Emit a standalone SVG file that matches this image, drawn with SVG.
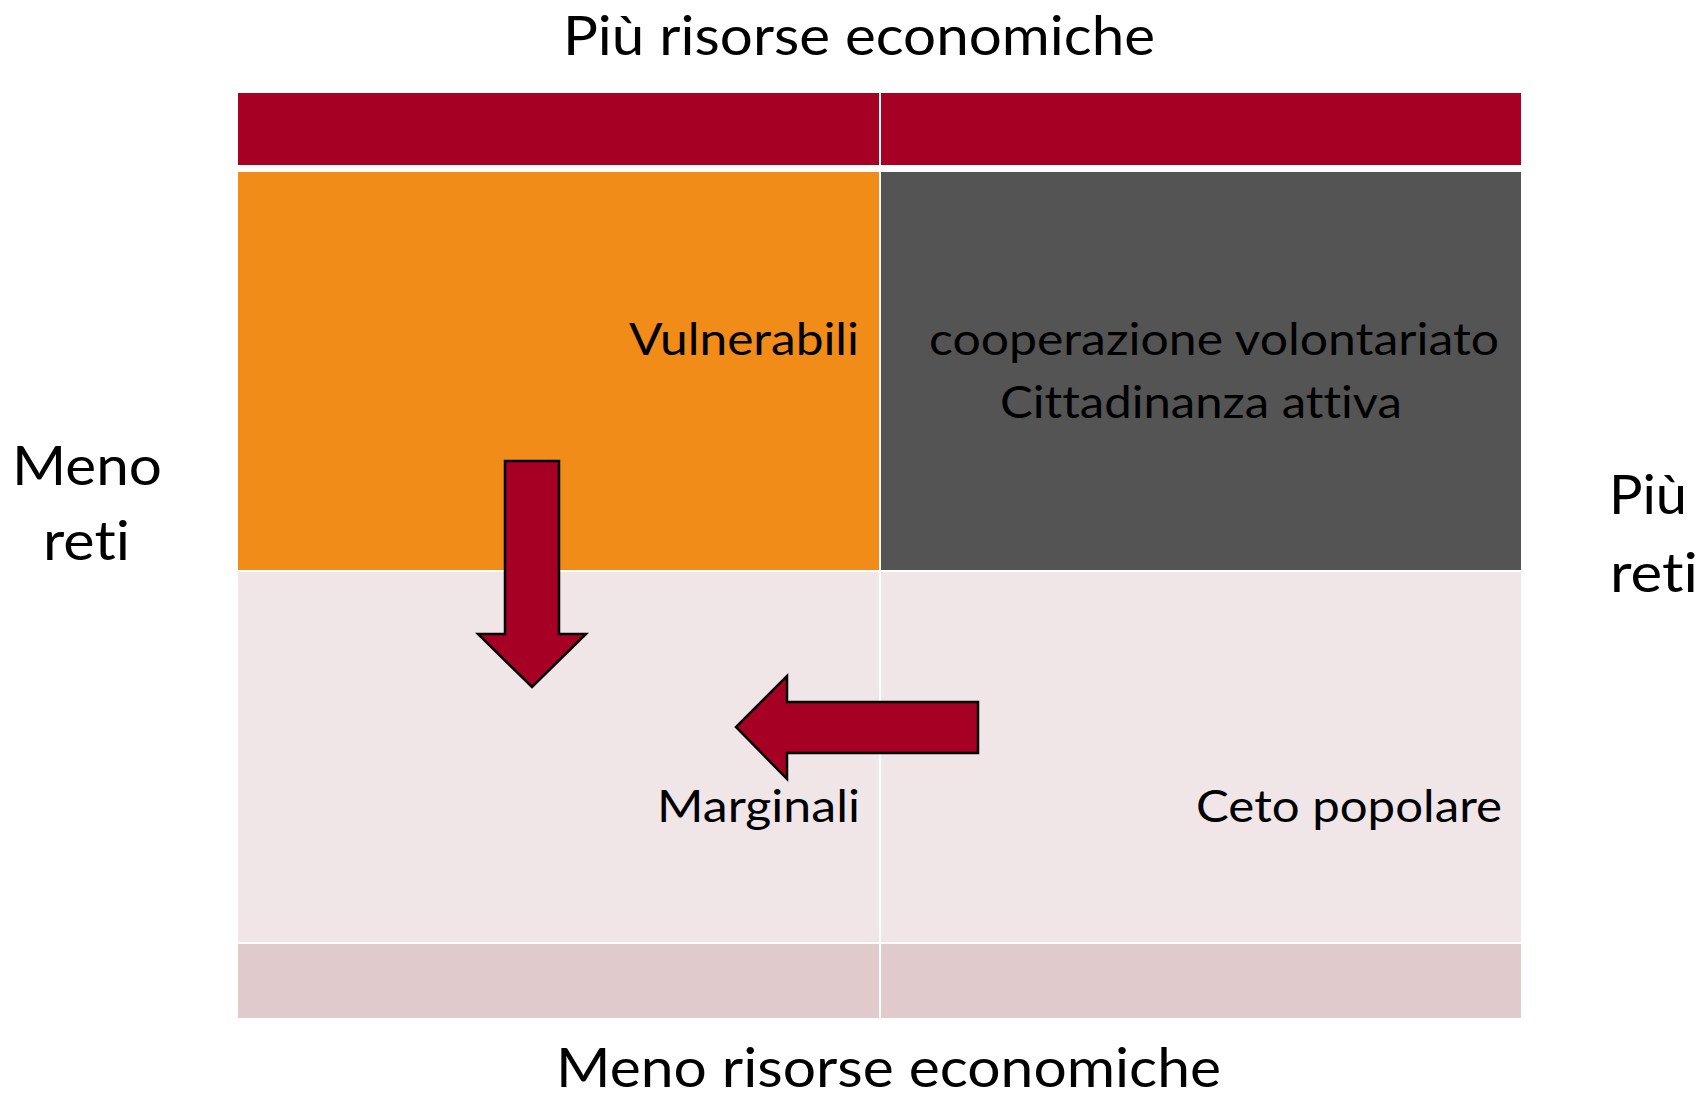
<svg xmlns="http://www.w3.org/2000/svg" width="1703" height="1096" viewBox="0 0 1703 1096">
<style>
  .t { font-family: Lato, "Open Sans", "Liberation Sans", sans-serif; fill: #000; font-variant-ligatures: none; font-feature-settings: "liga" 0, "clig" 0; }
  .big { font-size: 55px; }
  .mid { font-size: 45px; }
  .red { fill: #A60025; }
  .org { fill: #F08C17; }
  .drk { fill: #545454; }
  .pnk { fill: #F0E6E8; }
  .btm { fill: #E0CACC; }
  .arr { fill: #A60025; stroke: #000; stroke-width: 2.5; stroke-linejoin: miter; }
</style>
<rect width="1703" height="1096" fill="#fff"/>
<g id="grid">
  <rect class="red" x="238" y="93" width="641" height="72"/>
  <rect class="red" x="881" y="93" width="640" height="72"/>
  <rect class="btm" x="238" y="944" width="641" height="74"/>
  <rect class="btm" x="881" y="944" width="640" height="74"/>
</g>
<g id="vulnerabili">
  <rect class="org" x="238" y="172" width="641" height="398"/>
  <text class="t mid" x="629" y="355" textLength="230" lengthAdjust="spacingAndGlyphs">Vulnerabili</text>
</g>
<g id="cooperazione">
  <rect class="drk" x="881" y="172" width="640" height="398"/>
  <text class="t mid" x="929" y="355" textLength="570" lengthAdjust="spacingAndGlyphs">cooperazione volontariato</text>
  <text class="t mid" x="1000" y="418" textLength="402" lengthAdjust="spacingAndGlyphs">Cittadinanza attiva</text>
</g>
<g id="marginali">
  <rect class="pnk" x="238" y="572" width="641" height="370"/>
  <text class="t mid" x="657" y="822" textLength="203" lengthAdjust="spacingAndGlyphs">Marginali</text>
</g>
<g id="ceto">
  <rect class="pnk" x="881" y="572" width="640" height="370"/>
  <text class="t mid" x="1196" y="822" textLength="306" lengthAdjust="spacingAndGlyphs">Ceto popolare</text>
</g>
<g id="labels">
  <text class="t big" x="563" y="55" textLength="592" lengthAdjust="spacingAndGlyphs">Più risorse economiche</text>
  <text class="t big" x="556" y="1087" textLength="665" lengthAdjust="spacingAndGlyphs">Meno risorse economiche</text>
  <text class="t big" x="12" y="485" textLength="150" lengthAdjust="spacingAndGlyphs">Meno</text>
  <text class="t big" x="43" y="560" textLength="87" lengthAdjust="spacingAndGlyphs">reti</text>
  <text class="t big" x="1609" y="514" textLength="78" lengthAdjust="spacingAndGlyphs">Più</text>
  <text class="t big" x="1610" y="592" textLength="88" lengthAdjust="spacingAndGlyphs">reti</text>
</g>
<g id="connectors">
  <polygon class="arr" points="505,461 559,461 559,634 586,634 532,687 478,634 505,634"/>
  <polygon class="arr" points="978,702 978,753 787,753 787,779 736,727 787,676 787,702"/>
</g>
</svg>
